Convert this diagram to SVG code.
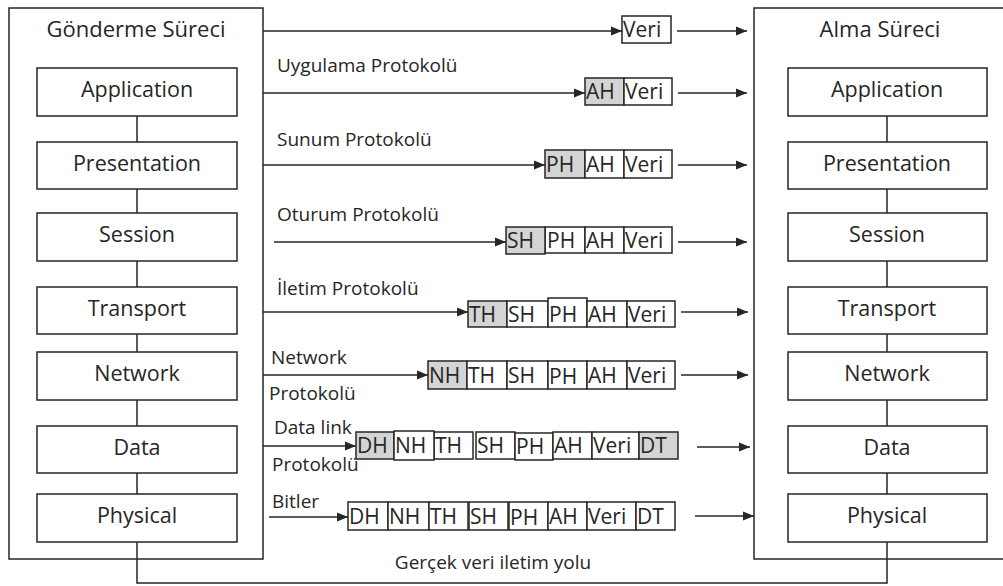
<svg xmlns="http://www.w3.org/2000/svg" width="1003" height="586" viewBox="0 0 1003 586">
<style>
.box{fill:#fff;stroke:#262626;stroke-width:1.5}
.hdr{fill:#d4d4d4;stroke:#262626;stroke-width:1.5}
.ln{fill:none;stroke:#262626;stroke-width:1.5}
.arr{fill:none;stroke:#262626;stroke-width:1.5;marker-end:url(#ah)}
text{font-family:"Open Sans","Noto Sans","DejaVu Sans",sans-serif;fill:#262626}
.nl{font-size:21.5px;text-anchor:middle}
.tl{font-size:22px;text-anchor:middle}
.pl{font-size:19px}
.pk{font-size:21px}
</style>
<defs>
<marker id="ah" markerUnits="userSpaceOnUse" markerWidth="12" markerHeight="10" refX="11" refY="5" orient="auto">
<path d="M0,0.5 L11,5 L0,9.5 Z" fill="#262626"/>
</marker>
</defs>
<rect width="1003" height="586" fill="#fff"/>

<g id="sender">
<rect class="box" x="9" y="8" width="254" height="551"/>
<text class="tl" x="136" y="37">Gönderme Süreci</text>
</g>
<g id="receiver">
<rect class="box" x="754" y="8" width="260" height="551"/>
<text class="tl" x="880" y="37">Alma Süreci</text>
</g>

<g id="connectors">
<path class="ln" d="M137,116V142 M137,189V213 M137,261V287 M137,334V352 M137,400V426 M137,473V494"/>
<path class="ln" d="M887,116V142 M887,189V213 M887,261V287 M887,334V352 M887,400V426 M887,473V494"/>
<path class="ln" d="M137,542V583H887V542"/>
<path class="arr" d="M263,31H622"/>
<path class="arr" d="M263,93H585"/>
<path class="arr" d="M263,165H545"/>
<path class="arr" d="M274,242H506"/>
<path class="arr" d="M263,312H468"/>
<path class="arr" d="M263,375H428"/>
<path class="arr" d="M263,446H356"/>
<path class="arr" d="M269,517H348"/>
<path class="arr" d="M677,31H747"/>
<path class="arr" d="M678,93H747"/>
<path class="arr" d="M678,165H747"/>
<path class="arr" d="M678,242H747"/>
<path class="arr" d="M681,312H748"/>
<path class="arr" d="M681,375H748"/>
<path class="arr" d="M697,447H750"/>
<path class="arr" d="M695,516H754"/>
</g>

<g id="labels">
<text class="pl" x="277" y="72">Uygulama  Protokolü</text>
<text class="pl" x="277" y="146">Sunum Protokolü</text>
<text class="pl" x="277" y="221">Oturum Protokolü</text>
<text class="pl" x="277" y="295">İletim Protokolü</text>
<text class="pl" x="271" y="364">Network</text>
<text class="pl" x="269" y="400">Protokolü</text>
<text class="pl" x="274" y="434">Data link</text>
<text class="pl" x="272" y="471">Protokolü</text>
<text class="pl" x="272" y="508">Bitler</text>
<text class="pl" x="493" y="569" text-anchor="middle">Gerçek veri iletim yolu</text>
</g>

<g id="sender-layers">
<g id="s-application"><rect class="box" x="37" y="68" width="200" height="48"/><text class="nl" x="137" y="97">Application</text></g>
<g id="s-presentation"><rect class="box" x="37" y="142" width="200" height="47"/><text class="nl" x="137" y="171">Presentation</text></g>
<g id="s-session"><rect class="box" x="37" y="213" width="200" height="48"/><text class="nl" x="137" y="242">Session</text></g>
<g id="s-transport"><rect class="box" x="37" y="287" width="200" height="47"/><text class="nl" x="137" y="316">Transport</text></g>
<g id="s-network"><rect class="box" x="37" y="352" width="200" height="48"/><text class="nl" x="137" y="381">Network</text></g>
<g id="s-data"><rect class="box" x="37" y="426" width="200" height="47"/><text class="nl" x="137" y="455">Data</text></g>
<g id="s-physical"><rect class="box" x="37" y="494" width="200" height="48"/><text class="nl" x="137" y="523">Physical</text></g>
</g>

<g id="receiver-layers">
<g id="r-application"><rect class="box" x="788" y="68" width="199" height="48"/><text class="nl" x="887" y="97">Application</text></g>
<g id="r-presentation"><rect class="box" x="788" y="142" width="199" height="47"/><text class="nl" x="887" y="171">Presentation</text></g>
<g id="r-session"><rect class="box" x="788" y="213" width="199" height="48"/><text class="nl" x="887" y="242">Session</text></g>
<g id="r-transport"><rect class="box" x="788" y="287" width="199" height="47"/><text class="nl" x="887" y="316">Transport</text></g>
<g id="r-network"><rect class="box" x="788" y="352" width="199" height="48"/><text class="nl" x="887" y="381">Network</text></g>
<g id="r-data"><rect class="box" x="788" y="426" width="199" height="47"/><text class="nl" x="887" y="455">Data</text></g>
<g id="r-physical"><rect class="box" x="788" y="494" width="199" height="48"/><text class="nl" x="887" y="523">Physical</text></g>
</g>

<g id="packet-1">
<rect class="box" x="622" y="16" width="49" height="27"/><text class="pk" x="623" y="37">Veri</text>
</g>
<g id="packet-2">
<rect class="hdr" x="585" y="78" width="39" height="27"/><text class="pk" x="586" y="99">AH</text>
<rect class="box" x="624" y="78" width="48" height="27"/><text class="pk" x="625" y="99">Veri</text>
</g>
<g id="packet-3">
<rect class="hdr" x="545" y="150" width="40" height="28"/><text class="pk" x="546" y="172">PH</text>
<rect class="box" x="585" y="150" width="39" height="28"/><text class="pk" x="586" y="172">AH</text>
<rect class="box" x="624" y="150" width="48" height="28"/><text class="pk" x="625" y="172">Veri</text>
</g>
<g id="packet-4">
<rect class="box" x="545" y="227" width="40" height="26"/><text class="pk" x="547" y="248">PH</text>
<rect class="box" x="585" y="227" width="39" height="26"/><text class="pk" x="586" y="248">AH</text>
<rect class="box" x="624" y="227" width="48" height="26"/><text class="pk" x="625" y="248">Veri</text>
<rect class="hdr" x="506" y="227" width="39" height="27"/><text class="pk" x="507" y="248">SH</text>
</g>
<g id="packet-5">
<rect class="hdr" x="468" y="301" width="39" height="26"/><text class="pk" x="469" y="322">TH</text>
<rect class="box" x="507" y="301" width="41" height="26"/><text class="pk" x="508" y="322">SH</text>
<rect class="box" x="548" y="298" width="39" height="29"/><text class="pk" x="549" y="322">PH</text>
<rect class="box" x="587" y="301" width="40" height="26"/><text class="pk" x="588" y="322">AH</text>
<rect class="box" x="627" y="301" width="48" height="26"/><text class="pk" x="628" y="322">Veri</text>
</g>
<g id="packet-6">
<rect class="hdr" x="428" y="361" width="39" height="28"/><text class="pk" x="429" y="383">NH</text>
<rect class="box" x="467" y="361" width="40" height="28"/><text class="pk" x="468" y="383">TH</text>
<rect class="box" x="507" y="361" width="41" height="28"/><text class="pk" x="508" y="383">SH</text>
<rect class="box" x="548" y="361" width="39" height="28"/><text class="pk" x="549" y="384">PH</text>
<rect class="box" x="587" y="361" width="40" height="28"/><text class="pk" x="588" y="383">AH</text>
<rect class="box" x="627" y="361" width="48" height="28"/><text class="pk" x="628" y="383">Veri</text>
</g>
<g id="packet-7">
<rect class="hdr" x="356" y="432" width="38" height="27"/><text class="pk" x="357" y="453">DH</text>
<rect class="box" x="434" y="432" width="39" height="27"/><text class="pk" x="435" y="453">TH</text>
<rect class="box" x="476" y="432" width="39" height="27"/><text class="pk" x="477" y="453">SH</text>
<rect class="box" x="515" y="433" width="38" height="27"/><text class="pk" x="516" y="454">PH</text>
<rect class="box" x="553" y="432" width="39" height="27"/><text class="pk" x="554" y="453">AH</text>
<rect class="box" x="592" y="432" width="47" height="27"/><text class="pk" x="593" y="453">Veri</text>
<rect class="hdr" x="639" y="432" width="39" height="27"/><text class="pk" x="640" y="453">DT</text>
<rect class="box" x="394" y="431" width="40" height="29"/><text class="pk" x="395" y="453">NH</text>
</g>
<g id="packet-8">
<rect class="box" x="348" y="502" width="40" height="28"/><text class="pk" x="349" y="524">DH</text>
<rect class="box" x="388" y="502" width="41" height="28"/><text class="pk" x="389" y="524">NH</text>
<rect class="box" x="429" y="502" width="39" height="28"/><text class="pk" x="430" y="524">TH</text>
<rect class="box" x="469" y="502" width="39" height="28"/><text class="pk" x="470" y="524">SH</text>
<rect class="box" x="509" y="502" width="39" height="28"/><text class="pk" x="510" y="525">PH</text>
<rect class="box" x="548" y="502" width="39" height="28"/><text class="pk" x="549" y="524">AH</text>
<rect class="box" x="587" y="502" width="49" height="28"/><text class="pk" x="588" y="524">Veri</text>
<rect class="box" x="636" y="502" width="39" height="28"/><text class="pk" x="637" y="524">DT</text>
</g>
</svg>
